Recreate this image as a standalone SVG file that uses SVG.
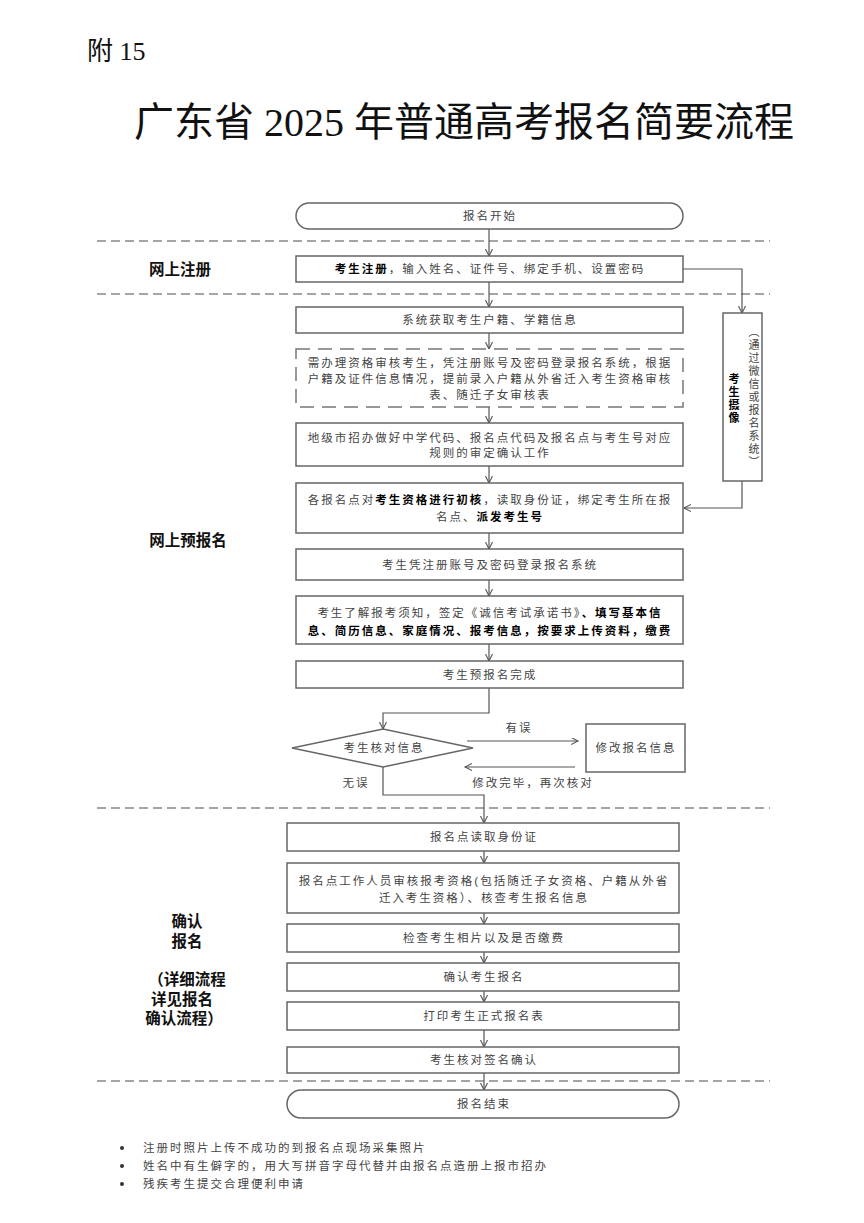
<svg xmlns="http://www.w3.org/2000/svg" width="864" height="1223" viewBox="0 0 864 1223">
<style>
.t{font-family:"Liberation Sans","Noto Sans CJK SC",sans-serif;font-size:11.5px;letter-spacing:2px;fill:#444;text-anchor:middle}
.b{font-weight:bold;fill:#000}
.lab{font-family:"Liberation Sans","Noto Sans CJK SC",sans-serif;font-size:15.5px;font-weight:bold;fill:#111;text-anchor:middle}
.box{fill:#fff;stroke:#666;stroke-width:1.5}
.dbox{fill:#fff;stroke:#777;stroke-width:1.5;stroke-dasharray:14 8}
.sep{stroke:#888;stroke-width:1.5;stroke-dasharray:9 5;fill:none}
.c{fill:none;stroke:#555;stroke-width:1.2;marker-end:url(#ah)}
.ft{font-family:"Liberation Sans","Noto Sans CJK SC",sans-serif;font-size:11.5px;letter-spacing:2px;fill:#444}
.v{font-family:"Liberation Sans","Noto Sans CJK SC",sans-serif;font-size:11px;text-anchor:middle}
</style>
<defs>
<marker id="ah" markerWidth="10" markerHeight="10" refX="7" refY="3.5" orient="auto" markerUnits="userSpaceOnUse">
<path d="M0,0 L7,3.5 L0,7" fill="none" stroke="#555" stroke-width="1.1"/>
</marker>
</defs>
<rect width="864" height="1223" fill="#fff"/>

<g id="header">
<text x="87" y="60" font-family="'Liberation Serif','Noto Sans CJK SC',serif" font-size="26" fill="#111">附 15</text>
<text x="464" y="136" font-family="'Liberation Serif','Noto Sans CJK SC',serif" font-size="40" font-weight="400" fill="#111" text-anchor="middle">广东省 2025 年普通高考报名简要流程</text>
</g>

<g id="separators">
<line class="sep" x1="97" y1="241" x2="770" y2="241"/>
<line class="sep" x1="97" y1="294" x2="770" y2="294"/>
<line class="sep" x1="97" y1="808" x2="770" y2="808"/>
<line class="sep" x1="97" y1="1081" x2="770" y2="1081"/>
</g>

<g id="labels">
<text class="lab" x="180" y="275">网上注册</text>
<text class="lab" x="188" y="546">网上预报名</text>
<text class="lab" x="187" y="927">确认</text>
<text class="lab" x="187" y="947">报名</text>
<text class="lab" x="187" y="985">（详细流程</text>
<text class="lab" x="182" y="1005">详见报名</text>
<text class="lab" x="184" y="1024">确认流程）</text>
</g>

<g id="connectors">
<line class="c" x1="489" y1="229" x2="489" y2="256"/>
<line class="c" x1="489" y1="282" x2="489" y2="307"/>
<line class="c" x1="489" y1="333" x2="489" y2="349"/>
<line class="c" x1="489" y1="407" x2="489" y2="423"/>
<line class="c" x1="489" y1="466" x2="489" y2="483"/>
<line class="c" x1="489" y1="533" x2="489" y2="549"/>
<line class="c" x1="489" y1="580" x2="489" y2="596"/>
<line class="c" x1="489" y1="644" x2="489" y2="661"/>
<path class="c" d="M489,688 V713 H383 V729"/>
<path class="c" d="M383,767 V795 H484 V823"/>
<line class="c" x1="467" y1="741" x2="578" y2="741"/>
<line class="c" x1="575" y1="767" x2="465" y2="767"/>
<path class="c" d="M683,269 H742 V313"/>
<path class="c" d="M742,481 V508 H684"/>
<line class="c" x1="484" y1="851" x2="484" y2="863"/>
<line class="c" x1="484" y1="913" x2="484" y2="924"/>
<line class="c" x1="484" y1="952" x2="484" y2="963"/>
<line class="c" x1="484" y1="991" x2="484" y2="1002"/>
<line class="c" x1="484" y1="1030" x2="484" y2="1047"/>
<line class="c" x1="484" y1="1073" x2="484" y2="1090"/>
<text class="t" x="519" y="732">有误</text>
<text class="t" x="533" y="787">修改完毕，再次核对</text>
<text class="t" x="356" y="787">无误</text>
</g>

<g id="start">
<rect class="box" x="296" y="203" width="387" height="26" rx="13"/>
<text class="t" x="490" y="220">报名开始</text>
</g>
<g id="register">
<rect class="box" x="296" y="256" width="387" height="26"/>
<text class="t" x="490" y="273"><tspan class="b">考生注册</tspan>，输入姓名、证件号、绑定手机、设置密码</text>
</g>
<g id="sysinfo">
<rect class="box" x="296" y="307" width="387" height="26"/>
<text class="t" x="490" y="324">系统获取考生户籍、学籍信息</text>
</g>
<g id="special">
<rect class="dbox" x="296" y="349" width="387" height="58"/>
<text class="t" x="490" y="367">需办理资格审核考生，凭注册账号及密码登录报名系统，根据</text>
<text class="t" x="490" y="383">户籍及证件信息情况，提前录入户籍从外省迁入考生资格审核</text>
<text class="t" x="490" y="399">表、随迁子女审核表</text>
</g>
<g id="cityoffice">
<rect class="box" x="296" y="423" width="387" height="43"/>
<text class="t" x="490" y="442">地级市招办做好中学代码、报名点代码及报名点与考生号对应</text>
<text class="t" x="490" y="457">规则的审定确认工作</text>
</g>
<g id="precheck">
<rect class="box" x="296" y="483" width="387" height="50"/>
<text class="t" x="490" y="504">各报名点对<tspan class="b">考生资格进行初核</tspan>，读取身份证，绑定考生所在报</text>
<text class="t" x="490" y="521">名点、<tspan class="b">派发考生号</tspan></text>
</g>
<g id="login">
<rect class="box" x="296" y="549" width="387" height="31"/>
<text class="t" x="490" y="569">考生凭注册账号及密码登录报名系统</text>
</g>
<g id="fillinfo">
<rect class="box" x="296" y="596" width="387" height="48"/>
<text class="t" x="490" y="617">考生了解报考须知，签定《诚信考试承诺书》<tspan class="b">、填写基本信</tspan></text>
<text class="t" x="490" y="635"><tspan class="b">息、简历信息、家庭情况、报考信息，按要求上传资料，缴费</tspan></text>
</g>
<g id="predone">
<rect class="box" x="296" y="661" width="387" height="27"/>
<text class="t" x="490" y="679">考生预报名完成</text>
</g>
<g id="verify">
<polygon class="box" points="292,748 383,729 473,748 383,767"/>
<text class="t" x="384" y="752">考生核对信息</text>
</g>
<g id="modify">
<rect class="box" x="586" y="724" width="99" height="48"/>
<text class="t" x="636" y="752">修改报名信息</text>
</g>
<g id="photo">
<rect class="box" x="723" y="313" width="39" height="168"/>
<text class="v" x="753" y="398" fill="#444" letter-spacing="2" style="writing-mode:vertical-rl">（通过微信或报名系统）</text>
<text class="v" x="733" y="399" fill="#000" font-weight="bold" letter-spacing="2" style="writing-mode:vertical-rl">考生摄像</text>
</g>
<g id="readid">
<rect class="box" x="287" y="823" width="392" height="28"/>
<text class="t" x="484" y="841">报名点读取身份证</text>
</g>
<g id="review">
<rect class="box" x="287" y="863" width="392" height="50"/>
<text class="t" x="484" y="885">报名点工作人员审核报考资格(包括随迁子女资格、户籍从外省</text>
<text class="t" x="484" y="902">迁入考生资格）、核查考生报名信息</text>
</g>
<g id="checkphoto">
<rect class="box" x="287" y="924" width="392" height="28"/>
<text class="t" x="484" y="942">检查考生相片以及是否缴费</text>
</g>
<g id="confirm">
<rect class="box" x="287" y="963" width="392" height="28"/>
<text class="t" x="484" y="981">确认考生报名</text>
</g>
<g id="print">
<rect class="box" x="287" y="1002" width="392" height="28"/>
<text class="t" x="484" y="1020">打印考生正式报名表</text>
</g>
<g id="sign">
<rect class="box" x="287" y="1047" width="392" height="26"/>
<text class="t" x="484" y="1064">考生核对签名确认</text>
</g>
<g id="end">
<rect class="box" x="287" y="1090" width="392" height="28" rx="14"/>
<text class="t" x="484" y="1108">报名结束</text>
</g>

<g id="notes">
<circle cx="122" cy="1148" r="2" fill="#333"/>
<circle cx="122" cy="1166" r="2" fill="#333"/>
<circle cx="122" cy="1184" r="2" fill="#333"/>
<text class="ft" x="143" y="1152">注册时照片上传不成功的到报名点现场采集照片</text>
<text class="ft" x="143" y="1170">姓名中有生僻字的，用大写拼音字母代替并由报名点造册上报市招办</text>
<text class="ft" x="143" y="1188">残疾考生提交合理便利申请</text>
</g>
</svg>
